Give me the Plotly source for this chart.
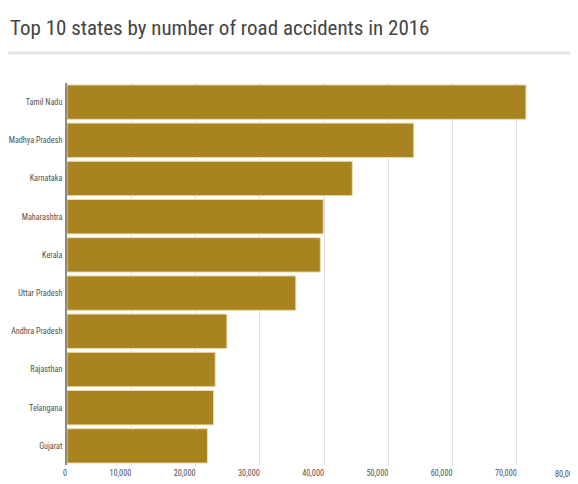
import plotly.graph_objects as go

states = ["Tamil Nadu", "Madhya Pradesh", "Karnataka", "Maharashtra", "Kerala",
          "Uttar Pradesh", "Andhra Pradesh", "Rajasthan", "Telangana", "Gujarat"]
accidents = [71431, 53972, 44403, 39878, 39420, 35612, 24888, 23066, 22811, 21859]
x_ticks = [0, 10000, 20000, 30000, 40000, 50000, 60000, 70000]
x_tick_text = ["0", "10,000", "20,000", "30,000", "40,000", "50,000", "60,000", "70,000"]
cut_tick = 80000
cut_tick_text = "80,000"

# page body has an 8px margin, so the figure is drawn 8px smaller and offset
OFF = 8
W, H = 578 - OFF, 484 - OFF
ML, MR, MT, MB = 67 - OFF, 0, 83 - OFF, 19
PH = H - MT - MB
PW = W - ML - MR
px_per_10k = 64.25
x_max = PW / px_per_10k * 10000

FONT = "Roboto Condensed, Roboto, sans-serif"
TXT = "#505050"


def tick_font():
    return dict(family=FONT, size=8.2, color=TXT)


fig = go.Figure(go.Bar(
    y=states, x=accidents, orientation="h",
    marker=dict(color="#a9831f", line=dict(color="#eadcae", width=1)),
))

rule_y = 1 + (MT - (53 - OFF)) / PH

fig.update_layout(
    width=W, height=H,
    margin=dict(l=ML, r=MR, t=MT, b=MB, autoexpand=False),
    paper_bgcolor="white", plot_bgcolor="white",
    font=dict(family=FONT, color=TXT),
    bargap=0.1,
    showlegend=False,
    title=dict(text="Top 10 states by number of road accidents in 2016",
               x=(10 - OFF) / W, xanchor="left", xref="container",
               y=1 - (28 - OFF) / H, yanchor="middle", yref="container",
               font=dict(family=FONT, size=21, color="#444444")),
    xaxis=dict(range=[0, x_max], tickvals=x_ticks, ticktext=x_tick_text,
               showgrid=True, gridcolor="#dedede", gridwidth=1,
               zeroline=False, showline=False, ticks="", automargin=False,
               ticklabelposition="outside left", ticklabelstandoff=2,
               tickfont=tick_font(), color=TXT, fixedrange=True),
    yaxis=dict(autorange="reversed", showgrid=False, zeroline=False,
               showline=True, linecolor="#8a8a8a", linewidth=2, ticks="",
               automargin=False, ticklabelstandoff=1, tickfont=tick_font(),
               color=TXT),
    shapes=[dict(type="line", xref="paper", yref="paper",
                 x0=-ML / PW, x1=1, y0=rule_y, y1=rule_y,
                 line=dict(color="#e6e6e6", width=3))],
    annotations=[dict(text=cut_tick_text, x=cut_tick / x_max, xref="paper",
                      y=0, yref="paper", xanchor="right", yanchor="top",
                      xshift=-2, yshift=-2, showarrow=False, font=tick_font())],
)

fig.write_html("out.html")
